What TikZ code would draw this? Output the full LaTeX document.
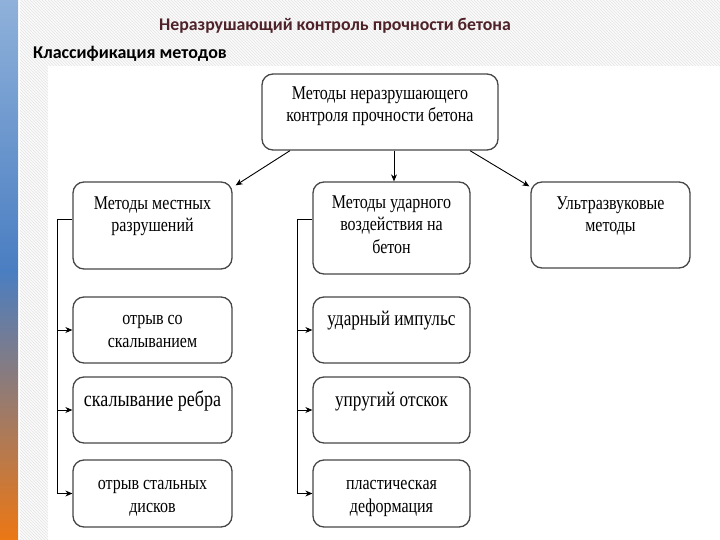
\documentclass[tikz,border=0pt]{standalone}
\usepackage{fontspec}
\setmainfont{Liberation Serif}
\newfontfamily\serifn[FakeStretch=0.82]{Liberation Serif}
\newfontfamily\calib{Carlito}
\usetikzlibrary{arrows.meta,patterns,positioning}
\definecolor{titlec}{HTML}{4E2228}
\definecolor{bartop}{HTML}{8FB1DA}
\definecolor{barmid}{HTML}{4A7EC2}
\definecolor{barbot}{HTML}{EC7714}
\tikzset{
  box/.style={draw=black!72, line width=1.3pt, rounded corners=11pt, fill=white, minimum width=159pt, inner sep=0pt},
  txt/.style={font=\serifn\fontsize{19.5}{22.5}\selectfont, align=center, inner sep=0pt, anchor=base},
  bigtxt/.style={txt, font=\serifn\fontsize{21}{22.5}\selectfont},
  conn/.style={line width=0.9pt, -{Stealth[length=7pt,width=6pt]}},
  plain/.style={line width=0.9pt}
}
\begin{document}
\begin{tikzpicture}[x=1pt,y=-1pt]
\useasboundingbox (0,0) rectangle (720,540);
% background
\shade[top color=bartop, bottom color=barbot, middle color=barmid] (0,0) rectangle (18,540);
\fill[black!2] (20,0) rectangle (720,540);
\fill[pattern=north west lines, pattern color=black!10] (20,0) rectangle (720,540);
\fill[white] (48,66) rectangle (720,540);
% titles
\node[font=\calib\bfseries\fontsize{17.8}{20}\selectfont, text=titlec, anchor=base, inner sep=0pt] (title) at (335,31) {Неразрушающий контроль прочности бетона};
\node[font=\calib\bfseries\fontsize{18}{20}\selectfont, anchor=base west, inner sep=0pt] (sub) at (33,58.5) {Классификация методов};
% boxes
\node[box, minimum width=236pt, minimum height=76pt] (top) at (380,112) {};
\node[box, minimum height=87pt] (lh) at (152.5,225.5) {};
\node[box, minimum width=157pt, minimum height=92pt] (mh) at (391.5,228) {};
\node[box, minimum height=86pt] (rh) at (610.5,225) {};
\node[box, minimum height=66pt] (l1) at (152.5,330) {};
\node[box, minimum height=66pt] (l2) at (152.5,410) {};
\node[box, minimum height=67pt] (l3) at (152.5,493.5) {};
\node[box, minimum width=157pt, minimum height=66pt] (m1) at (391.5,330) {};
\node[box, minimum width=157pt, minimum height=66pt] (m2) at (391.5,410) {};
\node[box, minimum width=157pt, minimum height=67pt] (m3) at (391.5,493.5) {};
% texts (base = baseline of last line)
\node[txt] (ttop) at (380,122) {Методы неразрушающего\\контроля прочности бетона};
\node[txt] (tlh) at (152.5,232) {Методы местных\\разрушений};
\node[txt] (tmh) at (391.5,253) {Методы ударного\\воздействия на\\бетон};
\node[txt] (trh) at (610.5,232) {Ультразвуковые\\методы};
\node[txt] (tl1) at (152.5,347) {отрыв со\\скалыванием};
\node[txt, font=\serifn\fontsize{22}{22.5}\selectfont] (tl2) at (152.5,406) {скалывание ребра};
\node[txt] (tl3) at (152.5,512) {отрыв стальных\\дисков};
\node[bigtxt] (tm1) at (391.5,325) {ударный импульс};
\node[bigtxt] (tm2) at (391.5,406) {упругий отскок};
\node[txt] (tm3) at (391.5,512) {пластическая\\деформация};
% connectors
\draw[conn] ([xshift=-90pt]top.south) -- ([xshift=3pt,yshift=-4pt]lh.north east);
\draw[conn] ([xshift=90pt]top.south) -- ([xshift=-1pt,yshift=-5pt]rh.north west);
\coordinate (ma) at ([xshift=14pt]top.south);
\draw[conn] (ma) -- (ma |- mh.north);
\coordinate (lb) at (57,219);
\draw[plain] (lh.west |- lb) -- (lb) -- (lb |- l3.west);
\draw[conn] (lb |- l1.west) -- (l1.west);
\draw[conn] (lb |- l2.west) -- (l2.west);
\draw[conn] (lb |- l3.west) -- (l3.west);
\coordinate (mb) at (297,219);
\draw[plain] (mh.west |- mb) -- (mb) -- (mb |- m3.west);
\draw[conn] (mb |- m1.west) -- (m1.west);
\draw[conn] (mb |- m2.west) -- (m2.west);
\draw[conn] (mb |- m3.west) -- (m3.west);
\end{tikzpicture}
\end{document}
